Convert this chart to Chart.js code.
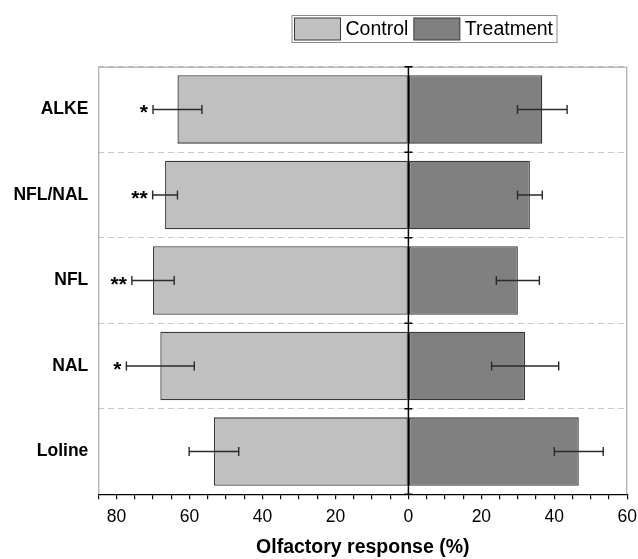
<!DOCTYPE html>
<html><head><meta charset="utf-8">
<script src="https://cdn.jsdelivr.net/npm/chart.js@4"></script>
<style>html,body{margin:0;padding:0;background:#fff}</style>
</head><body>
<canvas id="c" width="638" height="559"></canvas>
<script>
const categories = ['ALKE', 'NFL/NAL', 'NFL', 'NAL', 'Loline'];
const control = [63.3, 66.7, 70.0, 68.0, 53.3];
const controlErr = [6.7, 3.4, 5.8, 9.3, 6.8];
const treatment = [36.7, 33.3, 30.0, 32.0, 46.7];
const treatmentErr = [6.8, 3.4, 5.9, 9.2, 6.7];
const significance = ['*', '**', '**', '*', ''];
const xTicks = [-85, -80, -75, -70, -65, -60, -55, -50, -45, -40, -35, -30, -25, -20, -15, -10, -5, 0, 5, 10, 15, 20, 25, 30, 35, 40, 45, 50, 55, 60];
const xLabelStep = 20;

const FONT = "'Liberation Sans', Arial, sans-serif";
const COLORS = { control: '#c0c0c0', treatment: '#808080', edge: '#383838' };

const overlay = {
  id: 'overlay',
  afterDatasetsDraw(chart) {
    const ctx = chart.ctx, xs = chart.scales.x, ys = chart.scales.y;
    const series = [
      { vals: control.map(v => -v), errs: controlErr },
      { vals: treatment, errs: treatmentErr }
    ];
    ctx.save();
    ctx.strokeStyle = '#2a2a2a';
    ctx.lineWidth = 1.4;
    series.forEach(s => s.vals.forEach((v, i) => {
      const y = ys.getPixelForValue(i);
      const x1 = xs.getPixelForValue(v - s.errs[i]);
      const x2 = xs.getPixelForValue(v + s.errs[i]);
      ctx.beginPath();
      ctx.moveTo(x1, y); ctx.lineTo(x2, y);
      ctx.moveTo(x1, y - 4.5); ctx.lineTo(x1, y + 4.5);
      ctx.moveTo(x2, y - 4.5); ctx.lineTo(x2, y + 4.5);
      ctx.stroke();
    }));
    ctx.fillStyle = '#000';
    ctx.font = 'bold 21px ' + FONT;
    ctx.textAlign = 'right';
    ctx.textBaseline = 'alphabetic';
    significance.forEach((s, i) => {
      if (!s) return;
      const x = xs.getPixelForValue(-control[i] - controlErr[i]) - 5;
      const y = ys.getPixelForValue(i) + 10;
      ctx.fillText(s, x, y);
    });
    ctx.restore();
  },
  afterDraw(chart) {
    const ctx = chart.ctx, xs = chart.scales.x, ys = chart.scales.y;
    const { left, right, top, bottom } = chart.chartArea;
    ctx.save();
    ctx.strokeStyle = '#9a9a9a';
    ctx.lineWidth = 1;
    ctx.beginPath();
    ctx.moveTo(left + 0.5, bottom);
    ctx.lineTo(left + 0.5, top + 0.5);
    ctx.lineTo(right - 0.5, top + 0.5);
    ctx.lineTo(right - 0.5, bottom);
    ctx.stroke();
    const x0 = xs.getPixelForValue(0);
    ctx.strokeStyle = '#000';
    ctx.lineWidth = 1.5;
    ctx.beginPath();
    ctx.moveTo(x0, top); ctx.lineTo(x0, bottom);
    for (let i = 0; i <= categories.length; i++) {
      const y = ys.getPixelForValue(i - 0.5);
      ctx.moveTo(x0 - 4, y); ctx.lineTo(x0 + 4, y);
    }
    ctx.stroke();
    // legend
    ctx.font = '19.5px ' + FONT;
    ctx.textBaseline = 'middle';
    ctx.textAlign = 'left';
    const items = chart.data.datasets.map(d => ({ label: d.label, color: d.backgroundColor }));
    const fx = 292, fy = 15.5, fh = 27;
    let x = fx + 2;
    const sw = 46, sh = 22;
    const pos = [];
    items.forEach(it => {
      pos.push({ sx: x, tx: x + sw + 5.5, it });
      x += sw + 5.5 + ctx.measureText(it.label).width + 5;
    });
    const fw = x - fx - 1;
    ctx.fillStyle = '#fff';
    ctx.fillRect(fx, fy, fw, fh);
    ctx.strokeStyle = '#8a8a8a';
    ctx.lineWidth = 1;
    ctx.strokeRect(fx, fy, fw, fh);
    pos.forEach(p => {
      ctx.fillStyle = p.it.color;
      ctx.fillRect(p.sx + 0.5, fy + 2.5, sw, sh);
      ctx.strokeStyle = COLORS.edge;
      ctx.strokeRect(p.sx + 0.5, fy + 2.5, sw, sh);
      ctx.fillStyle = '#000';
      ctx.fillText(p.it.label, p.tx, fy + fh / 2 + 1);
    });
    ctx.restore();
  }
};

new Chart(document.getElementById('c'), {
  type: 'bar',
  data: {
    labels: categories,
    datasets: [
      { label: 'Control', data: control.map(v => -v), backgroundColor: COLORS.control,
        borderColor: COLORS.edge, borderWidth: 1.3, borderSkipped: false,
        categoryPercentage: 0.8, barPercentage: 1.0 },
      { label: 'Treatment', data: treatment, backgroundColor: COLORS.treatment,
        borderColor: COLORS.edge, borderWidth: 1.3, borderSkipped: false,
        categoryPercentage: 0.8, barPercentage: 1.0 }
    ]
  },
  options: {
    indexAxis: 'y',
    responsive: false,
    animation: false,
    devicePixelRatio: 1,
    layout: { padding: { left: 0, right: 10.7, top: 66.7, bottom: 0 } },
    plugins: { legend: { display: false }, tooltip: { enabled: false } },
    scales: {
      x: {
        type: 'linear', min: -85, max: 60, stacked: true,
        afterBuildTicks: s => { s.ticks = xTicks.map(v => ({ value: v })); },
        ticks: {
          autoSkip: false, maxRotation: 0, padding: 7, color: '#000',
          font: { family: FONT, size: 17.5 },
          callback: v => (v % xLabelStep === 0 ? String(Math.abs(v)) : '')
        },
        grid: { drawOnChartArea: false, drawTicks: true, tickLength: 5, color: '#000', lineWidth: 1.2 },
        border: { display: true, color: '#000', width: 1.3 },
        title: { display: true, text: 'Olfactory response (%)', color: '#000',
          font: { family: FONT, size: 19.5, weight: 'bold' }, padding: { top: 0, bottom: 0 } },
        afterFit: s => { s.height = 64.7; s.paddingRight = 0; s.paddingLeft = 0; }
      },
      y: {
        stacked: true, offset: true,
        ticks: { color: '#000', padding: 10, font: { family: FONT, size: 17.5, weight: 'bold' } },
        grid: { offset: true, drawTicks: false, color: '#c8c8c8', lineWidth: 1 },
        border: { display: false, dash: [6, 4] },
        afterFit: s => { s.width = 98.3; }
      }
    }
  },
  plugins: [overlay]
});
</script>
</body></html>
